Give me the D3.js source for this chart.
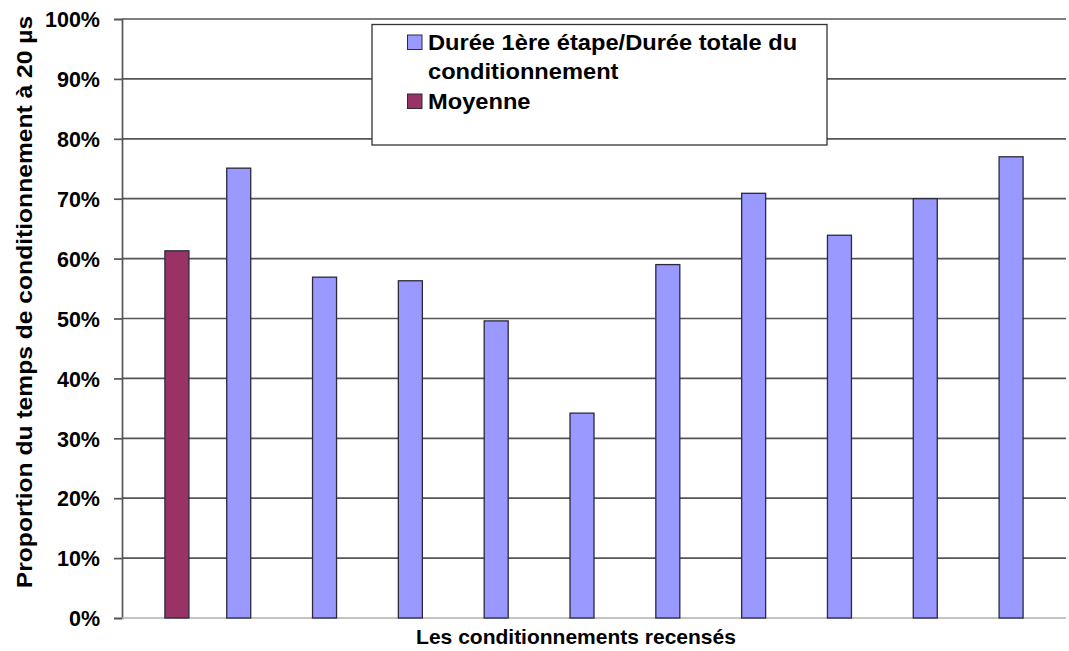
<!DOCTYPE html>
<html>
<head>
<meta charset="utf-8">
<script src="https://cdn.jsdelivr.net/npm/d3@7/dist/d3.min.js"></script>
<style>
  html, body { margin: 0; padding: 0; background: #fff; }
  svg { display: block; font-family: "Liberation Sans", Arial, sans-serif; font-weight: bold; }
</style>
</head>
<body>
<svg id="chart" width="1069" height="651"></svg>
<script>
// Recorded conditioning runs (first slot holds the average only)
const categories = ["1", "2", "3", "4", "5", "6", "7", "8", "9", "10", "11"];
// Share of first step duration in total conditioning time (%)
const firstStepShare = [null, 75.1, 56.9, 56.3, 49.6, 34.2, 59.0, 70.9, 63.9, 70.0, 77.0];
// Mean over all runs (%)
const meanShare = [61.3, null, null, null, null, null, null, null, null, null, null];
const yTicks = [0, 10, 20, 30, 40, 50, 60, 70, 80, 90, 100];

const seriesColors = ["#9999FF", "#993366"];

const svg = d3.select("#chart");
const plot = { left: 122, right: 1066, top: 19, bottom: 618 };

const x = d3.scaleBand().domain(categories).range([plot.left, plot.right]).padding(0);
const barW = 24;
const xSub = d3.scaleBand().domain([0, 1])
  .range([x.bandwidth() / 2 - barW, x.bandwidth() / 2 + barW]).padding(0);
const y = d3.scaleLinear().domain([0, 100]).range([plot.bottom, plot.top]);

// horizontal gridlines
svg.append("g")
  .selectAll("line")
  .data(yTicks.filter(t => t > 0))
  .join("line")
  .attr("x1", plot.left).attr("x2", plot.right)
  .attr("y1", d => y(d)).attr("y2", d => y(d))
  .attr("stroke", "#555").attr("stroke-width", 1.7);

// y axis
const yAxis = d3.axisLeft(y).tickValues(yTicks).tickFormat(d => d + "%").tickSize(8).tickPadding(14);
const gy = svg.append("g").attr("transform", `translate(${plot.left},0)`).call(yAxis);
gy.attr("font-family", null).attr("font-size", null);
gy.select(".domain").attr("stroke", "#555").attr("stroke-width", 1.7);
gy.selectAll(".tick line").attr("stroke", "#555").attr("stroke-width", 1.7);
gy.selectAll(".tick text")
  .attr("font-size", 21.5).attr("font-weight", "bold").attr("fill", "#000")
  .attr("dy", "0.36em");

// bottom axis line
svg.append("line")
  .attr("x1", plot.left).attr("x2", plot.right)
  .attr("y1", y(0)).attr("y2", y(0))
  .attr("stroke", "#b0b0b0").attr("stroke-width", 1.6);

// bars
const series = [firstStepShare, meanShare];
series.forEach((vals, si) => {
  svg.append("g")
    .selectAll("rect")
    .data(categories.map((c, i) => ({ c, v: vals[i] })).filter(d => d.v != null))
    .join("rect")
    .attr("x", d => x(d.c) + xSub(si))
    .attr("width", xSub.bandwidth())
    .attr("y", d => y(d.v))
    .attr("height", d => y(0) - y(d.v))
    .attr("fill", seriesColors[si])
    .attr("stroke", "#2a2a3a").attr("stroke-width", 1.3);
});

// legend
const lg = svg.append("g");
lg.append("rect")
  .attr("x", 372).attr("y", 24.5).attr("width", 455).attr("height", 120.5)
  .attr("fill", "#fff").attr("stroke", "#333").attr("stroke-width", 1.3);
const legendItems = [
  { lines: ["Durée 1ère étape/Durée totale du", "conditionnement"], color: seriesColors[0], y: 49.5 },
  { lines: ["Moyenne"], color: seriesColors[1], y: 108.5 }
];
legendItems.forEach(it => {
  lg.append("rect")
    .attr("x", 407.5).attr("y", it.y - 14.5).attr("width", 14.5).attr("height", 14.5)
    .attr("fill", it.color).attr("stroke", "#2a2a3a").attr("stroke-width", 1);
  it.lines.forEach((ln, k) => {
    lg.append("text")
      .attr("transform", `translate(428,${it.y + k * 29}) scale(1.1,1)`)
      .attr("font-size", 21.5).attr("fill", "#000")
      .text(ln);
  });
});

// axis titles
svg.append("text")
  .attr("transform", "translate(32,302) rotate(-90) scale(1.12,1)")
  .attr("text-anchor", "middle")
  .attr("font-size", 22).attr("fill", "#000")
  .text("Proportion du temps de conditionnement à 20 µs");

svg.append("text")
  .attr("x", 576).attr("y", 644)
  .attr("text-anchor", "middle")
  .attr("font-size", 21).attr("fill", "#000")
  .text("Les conditionnements recensés");
</script>
</body>
</html>
